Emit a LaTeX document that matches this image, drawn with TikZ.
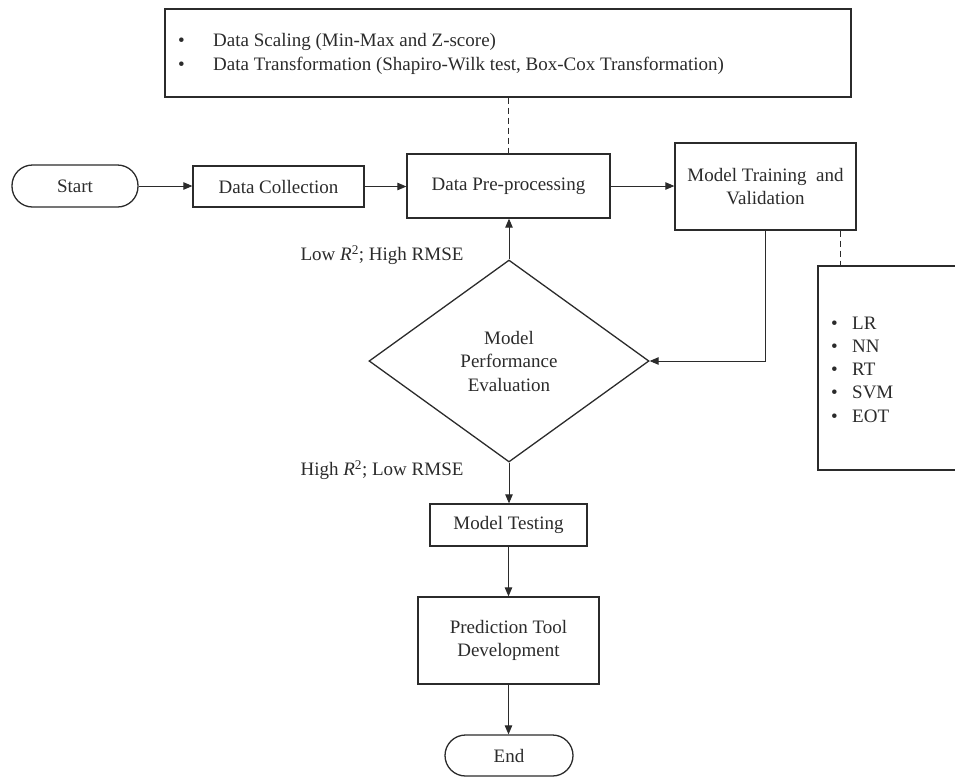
\documentclass[tikz,border=0pt]{standalone}
\usepackage{fontspec}
\setmainfont{Liberation Serif}
\usetikzlibrary{arrows.meta,shapes.geometric,calc}
\definecolor{ink}{HTML}{2B2B2B}
\begin{document}
\begin{tikzpicture}[x=1pt,y=-1pt,
  every node/.style={font=\fontsize{19}{23.5}\selectfont, text=ink},
  box/.style={draw=ink, line width=1.3pt, rectangle, inner sep=0pt, align=center},
  term/.style={box, rounded corners=20.5pt},
  conn/.style={draw=ink, line width=0.9pt, -{Triangle[length=9pt,width=7.5pt]}},
  link/.style={draw=ink, line width=0.9pt, dash pattern=on 6pt off 4pt}]
\useasboundingbox (0,0) rectangle (955,777);

\node[term, minimum width=126pt, minimum height=42pt] (start) at (75,186) {Start};
\node[box, minimum width=171pt, minimum height=41pt] (dc) at (278.5,186.5) {Data Collection};
\node[box, minimum width=203pt, minimum height=64pt] (dp) at (508.5,186) {Data Pre-processing};
\node[box, minimum width=181pt, minimum height=87pt] (mt) at (765.5,186.5) {Model Training\enspace and\\Validation};

\node[box, minimum width=686pt, minimum height=88pt] (pre) at (508,53) {};
\node[anchor=west, align=left, inner sep=0pt] (prelist) at (178,54)
  {\makebox[35pt][l]{\textbullet}Data Scaling (Min-Max and Z-score)\\
   \makebox[35pt][l]{\textbullet}Data Transformation (Shapiro-Wilk test, Box-Cox Transformation)};

\node[box, minimum width=147pt, minimum height=204pt] (lr) at (891.5,368) {};
\node[anchor=west, align=left, inner sep=0pt, font=\fontsize{19}{23.25}\selectfont] (lrlist) at (831,369.5)
  {\makebox[21pt][l]{\textbullet}LR\\
   \makebox[21pt][l]{\textbullet}NN\\
   \makebox[21pt][l]{\textbullet}RT\\
   \makebox[21pt][l]{\textbullet}SVM\\
   \makebox[21pt][l]{\textbullet}EOT};

\node[diamond, draw=ink, line width=1.3pt, minimum width=280pt, minimum height=202pt,
      inner sep=0pt, align=center] (pe) at (509,361) {Model\\Performance\\Evaluation};

\node[box, minimum width=157pt, minimum height=42pt] (test) at (508.5,525) {Model Testing};
\node[box, minimum width=181pt, minimum height=87pt] (ptd) at (508.5,640.5) {Prediction Tool\\Development};
\node[term, minimum width=128pt, minimum height=41pt] (end) at (509,755.5) {End};

\node (low) at (382,255) {Low \textit{R}\textsuperscript{2}; High RMSE};
\node (high) at (382,470) {High \textit{R}\textsuperscript{2}; Low RMSE};

\draw[conn] (start.east) -- (start.east -| dc.west);
\draw[conn] (dc.east) -- (dc.east -| dp.west);
\draw[conn] (dp.east) -- (dp.east -| mt.west);
\draw[conn] (mt.south) |- (pe.east);
\draw[conn] (pe.north) -- (pe.north |- dp.south);
\draw[conn] (pe.south) -- (pe.south |- test.north);
\draw[conn] (test.south) -- (test.south |- ptd.north);
\draw[conn] (ptd.south) -- (ptd.south |- end.north);

\draw[link] (pre.south) -- (pre.south |- dp.north);
\coordinate (lrtap) at (840,266);
\draw[link] (lrtap |- mt.south) -- (lrtap);
\end{tikzpicture}
\end{document}
